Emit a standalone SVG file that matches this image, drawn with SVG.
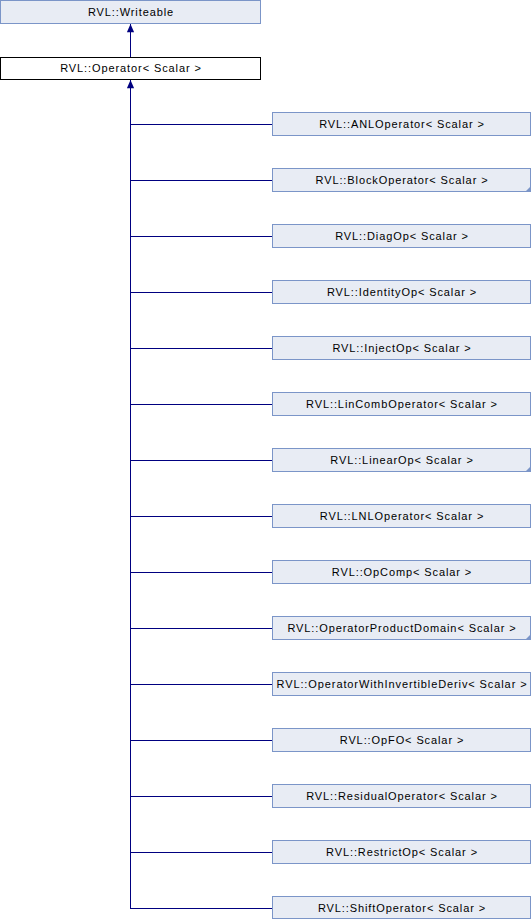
<svg xmlns="http://www.w3.org/2000/svg" width="532" height="920" viewBox="0 0 532 920">
<style>
.n rect{fill:#e8ecf4;stroke:#7b95c8;stroke-width:1}
.n.cur rect{fill:#fff;stroke:#000}
.n text{font-family:"Liberation Sans",Arial,sans-serif;font-size:11px;letter-spacing:0.9px;fill:#000;text-anchor:middle}
.c path{fill:none;stroke:#000080;stroke-width:1}
.tri{fill:#7b95c8;stroke:none}
</style>
<defs>
<marker id="ah" markerWidth="8" markerHeight="10" refX="4" refY="0" orient="0" markerUnits="userSpaceOnUse" viewBox="0 -1 8 11"><path d="M0,9 L4,0 L8,9 Z" fill="#000080"/></marker>
</defs>
<rect width="532" height="920" fill="#fff"/>
<g class="c">
<path d="M130.5,57 V24" marker-end="url(#ah)"/>
<path d="M130.5,908.5 V80" marker-end="url(#ah)"/>
<path d="M130,124.5 H272"/>
<path d="M130,180.5 H272"/>
<path d="M130,236.5 H272"/>
<path d="M130,292.5 H272"/>
<path d="M130,348.5 H272"/>
<path d="M130,404.5 H272"/>
<path d="M130,460.5 H272"/>
<path d="M130,516.5 H272"/>
<path d="M130,572.5 H272"/>
<path d="M130,628.5 H272"/>
<path d="M130,684.5 H272"/>
<path d="M130,740.5 H272"/>
<path d="M130,796.5 H272"/>
<path d="M130,852.5 H272"/>
<path d="M130,908.5 H272"/>
</g>
<g id="writeable" class="n"><rect x="0.5" y="0.5" width="260" height="23"/><text x="131" y="16">RVL::Writeable</text></g>
<g id="operator" class="n cur"><rect x="0.5" y="57.5" width="260" height="22"/><text x="131" y="72">RVL::Operator&lt; Scalar &gt;</text></g>
<g id="anl" class="n"><rect x="272.5" y="112.5" width="258" height="23"/><text x="402" y="128">RVL::ANLOperator&lt; Scalar &gt;</text></g>
<g id="block" class="n"><rect x="272.5" y="168.5" width="258" height="23"/><path class="tri" d="M531,186 V192 H525 Z"/><text x="402" y="184">RVL::BlockOperator&lt; Scalar &gt;</text></g>
<g id="diag" class="n"><rect x="272.5" y="224.5" width="258" height="23"/><text x="402" y="240">RVL::DiagOp&lt; Scalar &gt;</text></g>
<g id="identity" class="n"><rect x="272.5" y="280.5" width="258" height="23"/><text x="402" y="296">RVL::IdentityOp&lt; Scalar &gt;</text></g>
<g id="inject" class="n"><rect x="272.5" y="336.5" width="258" height="23"/><text x="402" y="352">RVL::InjectOp&lt; Scalar &gt;</text></g>
<g id="lincomb" class="n"><rect x="272.5" y="392.5" width="258" height="23"/><text x="402" y="408">RVL::LinCombOperator&lt; Scalar &gt;</text></g>
<g id="linear" class="n"><rect x="272.5" y="448.5" width="258" height="23"/><path class="tri" d="M531,466 V472 H525 Z"/><text x="402" y="464">RVL::LinearOp&lt; Scalar &gt;</text></g>
<g id="lnl" class="n"><rect x="272.5" y="504.5" width="258" height="23"/><text x="402" y="520">RVL::LNLOperator&lt; Scalar &gt;</text></g>
<g id="opcomp" class="n"><rect x="272.5" y="560.5" width="258" height="23"/><text x="402" y="576">RVL::OpComp&lt; Scalar &gt;</text></g>
<g id="opprod" class="n"><rect x="272.5" y="616.5" width="258" height="23"/><path class="tri" d="M531,634 V640 H525 Z"/><text x="402" y="632">RVL::OperatorProductDomain&lt; Scalar &gt;</text></g>
<g id="opinv" class="n"><rect x="272.5" y="672.5" width="258" height="23"/><text x="402" y="688">RVL::OperatorWithInvertibleDeriv&lt; Scalar &gt;</text></g>
<g id="opfo" class="n"><rect x="272.5" y="728.5" width="258" height="23"/><text x="402" y="744">RVL::OpFO&lt; Scalar &gt;</text></g>
<g id="residual" class="n"><rect x="272.5" y="784.5" width="258" height="23"/><text x="402" y="800">RVL::ResidualOperator&lt; Scalar &gt;</text></g>
<g id="restrict" class="n"><rect x="272.5" y="840.5" width="258" height="23"/><text x="402" y="856">RVL::RestrictOp&lt; Scalar &gt;</text></g>
<g id="shift" class="n"><rect x="272.5" y="896.5" width="258" height="22"/><text x="402" y="912">RVL::ShiftOperator&lt; Scalar &gt;</text></g>
</svg>
